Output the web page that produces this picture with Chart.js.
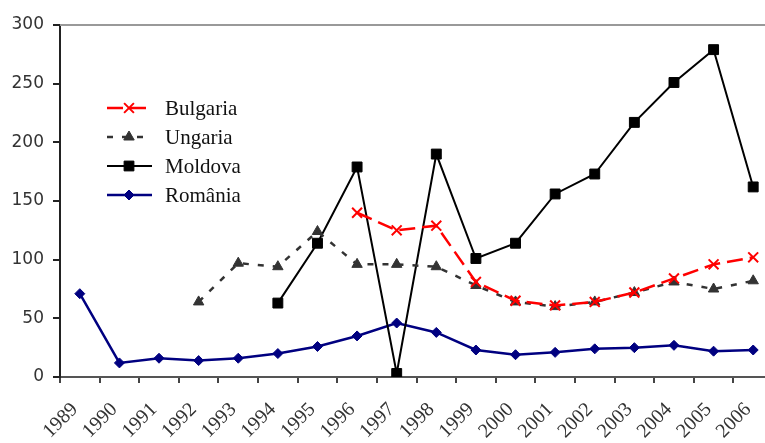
<!DOCTYPE html>
<html>
<head>
  <script src="https://cdn.jsdelivr.net/npm/chart.js"></script>
  <title>Bulgaria, Ungaria, Moldova, România</title>
  <style>
    html, body { margin: 0; background: #fff; overflow: hidden; }
    /* plot runs a little past the right edge of the picture, like the original */
    #wrap { width: 782px; height: 443px; }
  </style>
</head>
<body>
  <div id="wrap"><canvas id="chart"></canvas></div>

  <script>
    // years on the x axis
    const years = ['1989', '1990', '1991', '1992', '1993', '1994', '1995', '1996', '1997',
                   '1998', '1999', '2000', '2001', '2002', '2003', '2004', '2005', '2006'];

    // values (null = no data)
    const bulgaria = [null, null, null, null, null, null, null, 140, 125,
                      129, 81, 65, 61, 64, 72, 84, 96, 102];
    const ungaria = [null, null, null, 64, 97, 94, 124, 96, 96,
                     94, 78, 64, 60, 64, 72, 81, 75, 82];
    const moldova = [null, null, null, null, null, 63, 114, 179, 3,
                     190, 101, 114, 156, 173, 217, 251, 279, 162];
    const romania = [71, 12, 16, 14, 16, 20, 26, 35, 46,
                     38, 23, 19, 21, 24, 25, 27, 22, 23];

    const yTicks = [0, 50, 100, 150, 200, 250, 300];

    // marker drawing for the in-chart legend
    function drawMarker(ctx, ds, x, y) {
      const r = ds.pointRadius;
      ctx.save();
      ctx.setLineDash([]);
      ctx.fillStyle = ds.pointBackgroundColor;
      ctx.strokeStyle = ds.pointBorderColor;
      ctx.lineWidth = ds.pointBorderWidth;
      ctx.beginPath();
      if (ds.pointStyle === 'crossRot') {
        ctx.moveTo(x - r * 0.7, y - r * 0.7); ctx.lineTo(x + r * 0.7, y + r * 0.7);
        ctx.moveTo(x + r * 0.7, y - r * 0.7); ctx.lineTo(x - r * 0.7, y + r * 0.7);
        ctx.stroke();
      } else if (ds.pointStyle === 'triangle') {
        ctx.moveTo(x, y - r); ctx.lineTo(x + r * 0.87, y + r * 0.5); ctx.lineTo(x - r * 0.87, y + r * 0.5);
        ctx.closePath(); ctx.fill(); ctx.stroke();
      } else if (ds.pointStyle === 'rect') {
        ctx.rect(x - r * 0.7, y - r * 0.7, r * 1.4, r * 1.4);
        ctx.fill(); ctx.stroke();
      } else {
        ctx.moveTo(x, y - r); ctx.lineTo(x + r, y); ctx.lineTo(x, y + r); ctx.lineTo(x - r, y);
        ctx.closePath(); ctx.fill(); ctx.stroke();
      }
      ctx.restore();
    }

    // legend inside the plot + grey top border
    const innerLegend = {
      id: 'innerLegend',
      afterDraw(chart) {
        const ctx = chart.ctx;
        const area = chart.chartArea;
        ctx.save();
        ctx.strokeStyle = '#999';
        ctx.lineWidth = 2;
        ctx.beginPath();
        ctx.moveTo(area.left, area.top);
        ctx.lineTo(area.right, area.top);
        ctx.stroke();

        const startY = 108, step = 29;
        chart.data.datasets.forEach((ds, i) => {
          const y = startY + i * step;
          ctx.save();
          ctx.strokeStyle = ds.borderColor;
          ctx.lineWidth = ds.borderWidth;
          ctx.setLineDash(ds.borderDash || []);
          ctx.beginPath();
          ctx.moveTo(107, y);
          ctx.lineTo(152, y);
          ctx.stroke();
          ctx.restore();
          drawMarker(ctx, ds, 129, y);
          ctx.fillStyle = '#111';
          ctx.font = '21px "Liberation Serif"';
          ctx.textBaseline = 'middle';
          ctx.fillText(ds.label, 165, y + 1);
        });
        ctx.restore();
      }
    };

    const ctx = document.getElementById('chart').getContext('2d');
    new Chart(ctx, {
      type: 'line',
      data: {
        labels: years,
        datasets: [
          {
            label: 'Bulgaria',
            data: bulgaria,
            borderColor: '#ff0000',
            borderWidth: 2.5,
            borderDash: [16, 7],
            pointStyle: 'crossRot',
            pointRadius: 7,
            pointBorderWidth: 2,
            pointBorderColor: '#ff0000',
            pointBackgroundColor: '#ff0000'
          },
          {
            label: 'Ungaria',
            data: ungaria,
            borderColor: '#333333',
            borderWidth: 2.5,
            borderDash: [6, 9],
            pointStyle: 'triangle',
            pointRadius: 6,
            pointBorderWidth: 1,
            pointBorderColor: '#333333',
            pointBackgroundColor: '#333333'
          },
          {
            label: 'Moldova',
            data: moldova,
            borderColor: '#000000',
            borderWidth: 2,
            pointStyle: 'rect',
            pointRadius: 7,
            pointBorderWidth: 1,
            pointBorderColor: '#000000',
            pointBackgroundColor: '#000000'
          },
          {
            label: 'România',
            data: romania,
            borderColor: '#000080',
            borderWidth: 2.5,
            pointStyle: 'rectRot',
            pointRadius: 5,
            pointBorderWidth: 1,
            pointBorderColor: '#000080',
            pointBackgroundColor: '#000080'
          }
        ]
      },
      options: {
        responsive: true,
        maintainAspectRatio: false,
        animation: false,
        spanGaps: false,
        layout: { padding: { top: 25, right: 0, left: 0, bottom: 0 } },
        plugins: {
          legend: { display: false },
          tooltip: { enabled: false }
        },
        scales: {
          x: {
            offset: true,
            grid: {
              offset: true,
              drawOnChartArea: false,
              drawTicks: true,
              tickLength: 6,
              color: '#444',
              lineWidth: 2
            },
            border: { color: '#555', width: 2 },
            ticks: {
              maxRotation: 45,
              minRotation: 45,
              padding: 15,
              labelOffset: -5,
              color: '#333',
              font: { family: '"Liberation Serif"', size: 20 }
            },
            afterFit(scale) {
              scale.height = 66;
              scale.paddingLeft = 0;
              scale.paddingRight = 0;
            }
          },
          y: {
            min: 0,
            max: 300,
            afterBuildTicks(scale) { scale.ticks = yTicks.map(v => ({ value: v })); },
            grid: {
              drawOnChartArea: false,
              drawTicks: true,
              tickLength: 7,
              color: '#222',
              lineWidth: 2
            },
            border: { color: '#222', width: 2 },
            ticks: {
              padding: 9,
              color: '#333',
              font: { family: '"DejaVu Sans"', size: 17 }
            },
            afterFit(scale) { scale.width = 60; }
          }
        }
      },
      plugins: [innerLegend]
    });
  </script>
</body>
</html>
